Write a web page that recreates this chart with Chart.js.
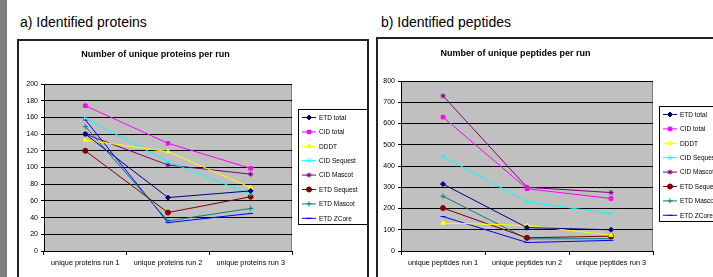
<!DOCTYPE html>
<html>
<head>
<meta charset="utf-8">
<script src="https://cdn.jsdelivr.net/npm/chart.js@4/dist/chart.umd.min.js"></script>
<style>
  html, body { margin: 0; padding: 0; width: 713px; height: 277px; overflow: hidden; background: #fff; position: relative; font-family: Arial, "Liberation Sans", sans-serif; }
  .strip { position: absolute; left: 0; top: 0; width: 7px; height: 277px; background: #7f7f7f; }
  .heading { position: absolute; font-size: 14px; color: #000; white-space: nowrap; }
  .frame { position: absolute; border: 2px solid #222; box-sizing: border-box; }
  canvas { position: absolute; }
</style>
</head>
<body>
<div class="strip"></div>
<div class="heading" style="left:20px; top:14px;">a) Identified proteins</div>
<div class="heading" style="left:381px; top:14px;">b) Identified peptides</div>
<div class="frame" style="left:17px; top:39px; width:352px; height:260px;"></div>
<div class="frame" style="left:376px; top:37px; width:360px; height:260px;"></div>
<canvas id="proteins-chart" style="left:19px; top:41px;"></canvas>
<canvas id="peptides-chart" style="left:378px; top:39px;"></canvas>
<script>
const seriesNames = ['ETD total', 'CID total', 'DDDT', 'CID Sequest', 'CID Mascot', 'ETD Sequest', 'ETD Mascot', 'ETD ZCore'];

const proteinRuns = ['unique proteins run 1', 'unique proteins run 2', 'unique proteins run 3'];
const proteinsEtdTotal = [140, 64, 72];
const proteinsCidTotal = [174, 129, 99];
const proteinsDddt = [133, 119, 76];
const proteinsCidSequest = [159, 107, 68];
const proteinsCidMascot = [140, 103, 92];
const proteinsEtdSequest = [120, 46, 65];
const proteinsEtdMascot = [149, 36, 51];
const proteinsEtdZcore = [157, 34, 45];
const proteinTicks = { max: 200, step: 20 };

const peptideRuns = ['unique peptides run 1', 'unique peptides run 2', 'unique peptides run 3'];
const peptidesEtdTotal = [315, 110, 100];
const peptidesCidTotal = [630, 293, 247];
const peptidesDddt = [132, 120, 75];
const peptidesCidSequest = [445, 232, 175];
const peptidesCidMascot = [730, 300, 275];
const peptidesEtdSequest = [202, 62, 70];
const peptidesEtdMascot = [258, 57, 58];
const peptidesEtdZcore = [162, 40, 50];
const peptideTicks = { max: 800, step: 100 };

const seriesColors = ['#000080', '#ff00ff', '#ffff00', '#00ffff', '#800080', '#800000', '#008080', '#0000ff'];
const seriesMarkers = ['rectRot', 'rect', 'triangle', 'crossRot', 'star', 'circle', 'cross', 'line'];
const chartFont = 'Arial, "Liberation Sans", sans-serif';

// grey plot area like the excel original
const plotBackground = {
    id: 'plotBackground',
    beforeDraw(chart) {
        const a = chart.chartArea;
        const ctx = chart.ctx;
        ctx.save();
        ctx.fillStyle = '#c0c0c0';
        ctx.fillRect(a.left, a.top, a.right - a.left, a.bottom - a.top);
        ctx.strokeStyle = '#808080';
        ctx.lineWidth = 1;
        ctx.strokeRect(a.left + 0.5, a.top + 0.5, a.right - a.left - 1, a.bottom - a.top);
        ctx.restore();
    }
};

// legend with a line through the marker, boxed on the right
const boxedLegend = {
    id: 'boxedLegend',
    afterDraw(chart) {
        const ctx = chart.ctx;
        const x = chart.chartArea.right + 6;
        const y = chart.chartArea.top + 25;
        ctx.save();
        ctx.fillStyle = '#fff';
        ctx.fillRect(x, y, 70, 115);
        ctx.strokeStyle = '#000';
        ctx.lineWidth = 1;
        ctx.strokeRect(x + 0.5, y + 0.5, 70, 115);
        chart.data.datasets.forEach(function(ds, i) {
            const cy = y + 8.5 + i * 14.4;
            ctx.strokeStyle = ds.borderColor;
            ctx.fillStyle = ds.borderColor;
            ctx.lineWidth = 1;
            ctx.beginPath();
            ctx.moveTo(x + 4, cy);
            ctx.lineTo(x + 18, cy);
            ctx.stroke();
            Chart.helpers.drawPoint(ctx, {
                pointStyle: ds.pointStyle, radius: 2.5, borderWidth: 1, rotation: 0
            }, x + 11, cy);
            ctx.fillStyle = '#000';
            ctx.font = '6.5px ' + chartFont;
            ctx.textBaseline = 'middle';
            ctx.fillText(ds.label, x + 21, cy + 0.5);
        });
        ctx.restore();
    }
};

function buildDatasets(rows) {
    return rows.map(function(values, i) {
        return {
            label: seriesNames[i],
            data: values,
            borderColor: seriesColors[i],
            backgroundColor: seriesColors[i],
            pointBorderColor: seriesColors[i],
            pointBackgroundColor: seriesColors[i],
            pointStyle: seriesMarkers[i],
            pointRadius: 2.5,
            borderWidth: 1,
            tension: 0
        };
    });
}

function drawRunChart(id, title, labels, rows, ticks, size, yWidth, titlePad) {
    const canvas = document.getElementById(id);
    canvas.width = size.w;
    canvas.height = size.h;
    canvas.style.width = size.w + 'px';
    canvas.style.height = size.h + 'px';
    return new Chart(canvas, {
        type: 'line',
        data: { labels: labels, datasets: buildDatasets(rows) },
        options: {
            responsive: false,
            animation: false,
            layout: { padding: { left: 0, right: 75, top: 0, bottom: 0 } },
            plugins: {
                legend: { display: false },
                tooltip: { enabled: false },
                title: {
                    display: true,
                    text: title,
                    color: '#000',
                    font: { family: chartFont, size: 9, weight: 'bold', lineHeight: 1.2 },
                    padding: titlePad
                }
            },
            scales: {
                x: {
                    type: 'category',
                    offset: true,
                    grid: { offset: true, drawOnChartArea: false, color: '#000', tickLength: 4 },
                    border: { color: '#000' },
                    ticks: { color: '#000', padding: 4, maxRotation: 0, font: { family: chartFont, size: 7.3 } },
                    afterFit(axis) { axis.height = 26; }
                },
                y: {
                    min: 0,
                    max: ticks.max,
                    grid: { color: '#000', tickLength: 3 },
                    border: { color: '#000' },
                    ticks: { stepSize: ticks.step, color: '#000', padding: 3, font: { family: chartFont, size: 7 } },
                    afterFit(axis) { axis.width = yWidth; }
                }
            }
        },
        plugins: [plotBackground, boxedLegend]
    });
}

drawRunChart('proteins-chart', 'Number of unique proteins per run', proteinRuns,
    [proteinsEtdTotal, proteinsCidTotal, proteinsDddt, proteinsCidSequest,
     proteinsCidMascot, proteinsEtdSequest, proteinsEtdMascot, proteinsEtdZcore],
    proteinTicks, { w: 348, h: 236 }, 25, { top: 8, bottom: 24.2 });

drawRunChart('peptides-chart', 'Number of unique peptides per run', peptideRuns,
    [peptidesEtdTotal, peptidesCidTotal, peptidesDddt, peptidesCidSequest,
     peptidesCidMascot, peptidesEtdSequest, peptidesEtdMascot, peptidesEtdZcore],
    peptideTicks, { w: 350, h: 238 }, 23, { top: 9, bottom: 22.2 });
</script>
</body>
</html>
